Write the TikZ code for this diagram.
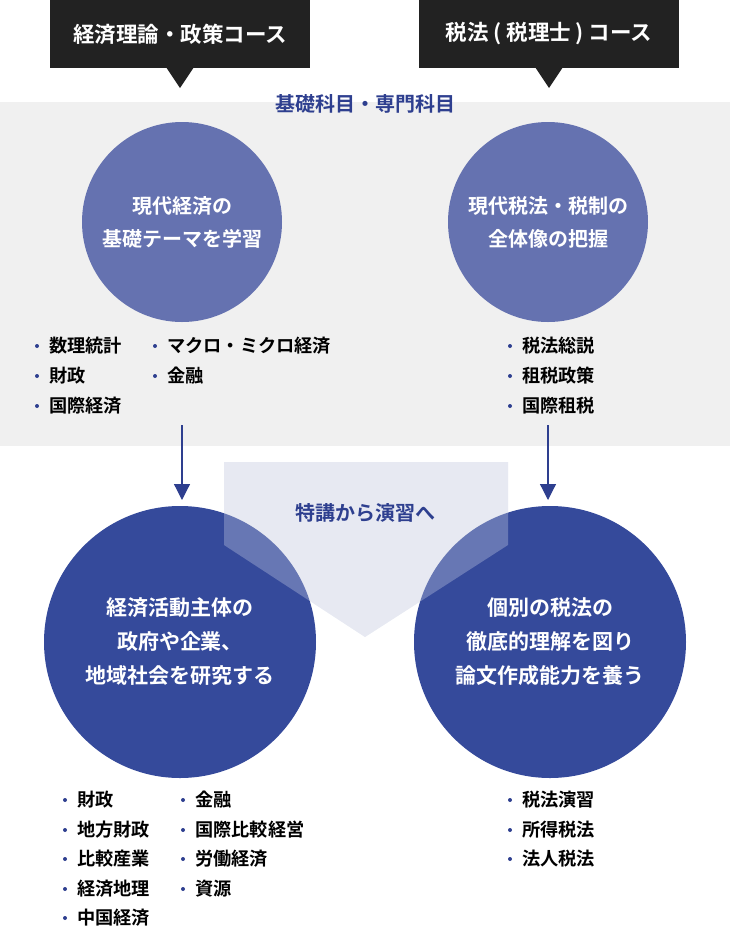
\documentclass[tikz,border=0pt]{standalone}
\usepackage{fontspec}
\setmainfont{Noto Sans CJK JP}[BoldFont={* Bold}]
\definecolor{navy}{HTML}{354A9B}
\definecolor{lightc}{HTML}{6572B0}
\definecolor{band}{HTML}{F0F0F0}
\definecolor{pent}{HTML}{DFE2EE}
\definecolor{ttl}{HTML}{2E3F8F}
\definecolor{blk}{HTML}{222222}
\tikzset{
 tag/.style={fill=blk,text=white,font=\bfseries\fontsize{21.5}{24}\selectfont,minimum width=260pt,minimum height=68pt,inner sep=0},
 circtxt/.style={circle,text=white,font=\bfseries\fontsize{20}{33}\selectfont,align=center,inner sep=0},
 item/.style={anchor=west,font=\bfseries\fontsize{18.2}{20}\selectfont,text=black,inner sep=0},
 dot/.style={circle,fill=ttl,inner sep=0,minimum size=4pt},
 flow/.style={draw=ttl,line width=1.2pt,-{Triangle[length=16pt,width=16pt]}}
}
\usetikzlibrary{arrows.meta}
\newcommand{\bul}[3]{\node[dot] at (#1,#2) {}; \node[item] at (#1+12,#2) {#3};}
\begin{document}
\begin{tikzpicture}[x=1pt,y=-1pt]
\useasboundingbox (0,0) rectangle (730,930);
\fill[band] (0,102) rectangle (730,446);
% tags
\node[tag] (t1) at (180,34) {経済理論・政策コース};
\fill[blk] (166,67) -- (194,67) -- (180,88) -- cycle;
\node[tag] (t2) at (549,34) {税法 ( 税理士 ) コース};
\fill[blk] (535,67) -- (563,67) -- (549,88) -- cycle;
\node[font=\bfseries\fontsize{20}{22}\selectfont,text=ttl] (h) at (365,104) {基礎科目・専門科目};
% top circles
\node[circtxt,fill=lightc,minimum size=200pt] (c1) at (182,222) {現代経済の\\基礎テーマを学習};
\node[circtxt,fill=lightc,minimum size=200pt] (c2) at (548,222) {現代税法・税制の\\全体像の把握};
% lists top
\bul{37}{346}{数理統計}\bul{37}{376}{財政}\bul{37}{406}{国際経済}
\bul{155}{346}{マクロ・ミクロ経済}\bul{155}{376}{金融}
\bul{510}{346}{税法総説}\bul{510}{376}{租税政策}\bul{510}{406}{国際租税}
% pentagon
\fill[pent] (224,462) -- (508,462) -- (508,545) -- (365,637) -- (224,545) -- cycle;
% bottom circles
\node[circtxt,fill=navy,minimum size=272pt,font=\bfseries\fontsize{21}{34}\selectfont] (c3) at (180,642) {経済活動主体の\\政府や企業、\\地域社会を研究する};
\node[circtxt,fill=navy,minimum size=272pt,font=\bfseries\fontsize{21}{34}\selectfont] (c4) at (550,642) {個別の税法の\\徹底的理解を図り\\論文作成能力を養う};
\fill[white,opacity=0.25] (224,462) -- (508,462) -- (508,545) -- (365,637) -- (224,545) -- cycle;
\node[font=\bfseries\fontsize{20}{22}\selectfont,text=ttl] (p) at (365,513) {特講から演習へ};
\coordinate (a1) at (182,425); \coordinate (a2) at (548,425);
\draw[flow] (a1) -- (182,500);
\draw[flow] (a2) -- (548,500);
% bottom lists
\bul{65}{800}{財政}\bul{65}{830}{地方財政}\bul{65}{859}{比較産業}\bul{65}{889}{経済地理}\bul{65}{918}{中国経済}
\bul{183}{800}{金融}\bul{183}{830}{国際比較経営}\bul{183}{859}{労働経済}\bul{183}{889}{資源}
\bul{510}{800}{税法演習}\bul{510}{830}{所得税法}\bul{510}{859}{法人税法}
\end{tikzpicture}
\end{document}
